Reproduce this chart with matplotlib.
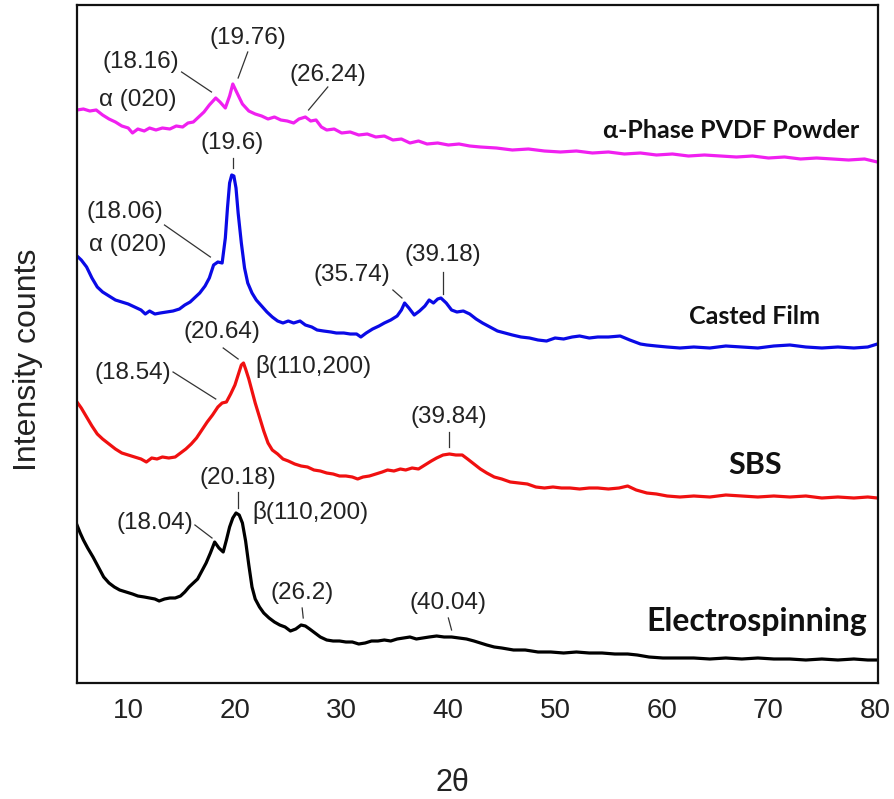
import matplotlib
matplotlib.use("Agg")
import matplotlib.pyplot as plt

# ---------------- data ----------------
# (2-theta, intensity) pairs, intensity in arbitrary offset-stacked units
powder_pts = [
    (5.2, 573), (5.8, 574), (6.4, 572), (7.0, 573), (7.6, 568), (8.2, 564), (8.8, 561), (9.4, 557),
    (10.0, 555), (10.4, 550), (10.9, 554), (11.5, 552), (12.0, 555), (12.6, 553), (13.2, 555),
    (13.9, 554), (14.5, 557), (15.1, 556), (15.6, 560), (16.1, 561), (16.6, 566), (17.1, 571),
    (17.6, 578), (18.2, 585), (18.6, 581), (19.1, 575), (19.5, 587), (19.8, 599), (20.2, 590),
    (20.7, 579), (21.3, 572), (21.9, 569), (22.5, 567), (23.1, 564), (23.7, 566), (24.3, 563),
    (24.9, 562), (25.5, 560), (26.0, 564), (26.6, 566), (27.1, 562), (27.6, 563), (28.1, 556),
    (28.6, 553), (29.3, 554), (30.0, 550), (30.8, 551), (31.6, 548), (32.4, 549), (33.2, 546),
    (34.0, 547), (34.8, 543), (35.6, 544), (36.4, 540), (37.2, 542), (38.0, 539), (39.0, 540),
    (40.0, 538), (41.0, 539), (42.0, 537), (43.0, 536), (44.5, 535), (46.0, 533), (47.5, 534),
    (49.0, 532), (50.5, 531), (52.0, 532), (53.5, 530), (55.0, 531), (56.5, 529), (58.0, 530),
    (59.5, 528), (61.0, 529), (62.5, 527), (64.0, 528), (65.5, 527), (67.0, 526), (68.5, 527),
    (70.0, 525), (71.5, 526), (73.0, 524), (74.5, 525), (76.0, 524), (77.5, 523), (79.0, 524),
    (80.2, 521),
]

film_pts = [
    (5.2, 427), (5.6, 423), (6.1, 416), (6.6, 405), (7.1, 396), (7.6, 391), (8.2, 387), (8.8, 383),
    (9.4, 381), (10.0, 379), (10.6, 376), (11.2, 373), (11.6, 369), (12.0, 372), (12.5, 369),
    (13.0, 370), (13.6, 371), (14.2, 372), (14.8, 374), (15.3, 378), (15.8, 381), (16.3, 386),
    (16.7, 390), (17.2, 397), (17.6, 405), (18.0, 418), (18.4, 421), (18.8, 420), (19.1, 445),
    (19.3, 475), (19.5, 500), (19.7, 508), (19.9, 507), (20.1, 495), (20.3, 470), (20.6, 440),
    (20.9, 415), (21.2, 400), (21.6, 390), (22.0, 383), (22.5, 377), (23.0, 371), (23.5, 366),
    (24.0, 362), (24.5, 360), (25.0, 362), (25.5, 360), (26.1, 362), (26.6, 358), (27.2, 356),
    (27.7, 353), (28.3, 352), (29.0, 351), (29.5, 350), (30.2, 350), (30.8, 349), (31.4, 349),
    (31.8, 346), (32.3, 350), (32.9, 354), (33.5, 357), (34.0, 360), (34.6, 363), (35.2, 367),
    (35.6, 373), (35.9, 380), (36.3, 375), (36.8, 368), (37.3, 372), (37.8, 377), (38.2, 383),
    (38.6, 380), (39.0, 384), (39.3, 385), (39.8, 380), (40.3, 373), (40.8, 371), (41.4, 372),
    (42.0, 369), (42.6, 364), (43.2, 360), (43.9, 356), (44.6, 352), (45.3, 350), (46.0, 348),
    (46.8, 346), (47.6, 345), (48.4, 343), (49.2, 342), (50.0, 345), (50.8, 344), (51.6, 346),
    (52.3, 347), (53.2, 345), (54.0, 346), (55.0, 346), (56.1, 347), (57.0, 343), (58.0, 339),
    (58.6, 338), (59.5, 337), (60.5, 336), (61.7, 335), (63.0, 336), (64.5, 335), (66.0, 337),
    (67.5, 336), (69.0, 335), (70.5, 337), (72.0, 338), (73.5, 336), (75.0, 335), (76.5, 336),
    (78.0, 335), (79.3, 336), (80.2, 339),
]

sbs_pts = [
    (5.2, 281), (5.6, 275), (6.1, 266), (6.6, 257), (7.1, 249), (7.6, 244), (8.2, 239), (8.8, 234),
    (9.4, 230), (10.0, 228), (10.6, 226), (11.2, 224), (11.7, 221), (12.2, 225), (12.7, 224),
    (13.2, 226), (13.8, 225), (14.4, 226), (14.9, 230), (15.4, 234), (15.9, 239), (16.4, 245),
    (16.9, 253), (17.4, 261), (17.9, 268), (18.4, 276), (18.8, 280), (19.2, 281), (19.6, 289),
    (20.0, 298), (20.3, 308), (20.6, 318), (20.8, 320), (21.0, 314), (21.3, 304), (21.6, 292),
    (21.9, 280), (22.3, 266), (22.7, 252), (23.1, 240), (23.5, 233), (24.0, 229), (24.5, 224),
    (25.0, 222), (25.6, 219), (26.2, 217), (26.8, 216), (27.4, 213), (28.0, 212), (28.6, 210),
    (29.2, 209), (29.8, 207), (30.4, 207), (31.0, 206), (31.5, 204), (32.0, 206), (32.6, 207),
    (33.2, 209), (33.8, 211), (34.3, 213), (34.9, 212), (35.5, 214), (36.0, 213), (36.6, 215),
    (37.2, 214), (37.8, 218), (38.4, 222), (38.9, 225), (39.5, 228), (40.1, 229), (40.7, 228),
    (41.3, 228), (41.8, 224), (42.4, 219), (43.0, 214), (43.6, 210), (44.3, 206), (45.0, 204),
    (45.8, 201), (46.6, 200), (47.4, 199), (48.2, 196), (49.0, 195), (49.8, 196), (50.6, 195),
    (51.4, 195), (52.3, 194), (53.2, 195), (54.0, 195), (55.0, 194), (56.0, 195), (56.8, 197),
    (57.6, 193), (58.6, 190), (59.5, 189), (60.5, 187), (61.7, 186), (63.0, 187), (64.5, 186),
    (66.0, 188), (67.5, 187), (69.0, 186), (70.5, 187), (72.0, 186), (73.5, 187), (75.0, 185),
    (76.5, 186), (78.0, 185), (79.3, 186), (80.2, 185),
]

es_pts = [
    (5.2, 158), (5.5, 150), (5.8, 143), (6.2, 135), (6.7, 126), (7.2, 116), (7.7, 106), (8.2, 100),
    (8.7, 96), (9.2, 93), (9.8, 91), (10.4, 89), (10.9, 87), (11.5, 86), (12.0, 85), (12.5, 84),
    (12.9, 82), (13.4, 84), (13.9, 85), (14.4, 85), (14.9, 87), (15.3, 91), (15.7, 96), (16.1, 100),
    (16.5, 104), (16.9, 112), (17.3, 120), (17.7, 130), (18.1, 141), (18.5, 135), (18.9, 131),
    (19.2, 143), (19.5, 156), (19.8, 165), (20.1, 170), (20.4, 168), (20.7, 160), (21.0, 142),
    (21.3, 118), (21.6, 96), (21.9, 84), (22.3, 76), (22.7, 70), (23.2, 65), (23.7, 61),
    (24.2, 58), (24.7, 56), (25.2, 52), (25.7, 54), (26.2, 58), (26.6, 57), (27.0, 54), (27.5, 50),
    (28.0, 46), (28.6, 43), (29.2, 42), (29.8, 42), (30.4, 41), (31.0, 41), (31.6, 39), (32.2, 40),
    (32.8, 42), (33.4, 42), (34.0, 43), (34.6, 42), (35.2, 44), (35.8, 45), (36.4, 46), (37.0, 44),
    (37.6, 45), (38.2, 46), (38.9, 47), (39.6, 46), (40.3, 46), (41.0, 45), (41.7, 44), (42.4, 42),
    (43.0, 40), (43.6, 38), (44.3, 36), (45.0, 35), (46.1, 33), (47.2, 33), (48.4, 31), (49.6, 31),
    (50.8, 30), (52.0, 31), (53.2, 30), (54.4, 30), (55.6, 29), (56.8, 29), (57.7, 28), (58.8, 26),
    (60.1, 25), (61.5, 25), (63.0, 25), (64.5, 24), (66.0, 25), (67.5, 24), (69.0, 25), (70.5, 24),
    (72.0, 24), (73.5, 23), (75.0, 24), (76.5, 23), (78.0, 24), (79.3, 23), (80.2, 23),
]

series_names = ["\u03b1-Phase PVDF Powder", "Casted Film", "SBS", "Electrospinning"]
series_colors = ["#F020F0", "#0A0AE6", "#F01010", "#000000"]

x_ticks = [10, 20, 30, 40, 50, 60, 70, 80]

# peak annotations: (text, peak x, peak y, line start x, line start y, text x, text y)
peak_notes = [
    ("(18.16)", 17.8, 591, 15.0, 611, 11.2, 621),
    ("(19.76)", 20.3, 605, 21.2, 631, 21.2, 645),
    ("(26.24)", 26.9, 573, 28.7, 596, 28.7, 608),
    ("(19.6)", 19.8, 515, 19.8, 525, 19.7, 540),
    ("(18.06)", 17.7, 426, 13.4, 458, 9.7, 471),
    ("(35.74)", 35.65, 385, 34.8, 393, 31.0, 408),
    ("(39.18)", 39.5, 389, 39.5, 411, 39.5, 428),
    ("(20.64)", 20.3, 324, 18.9, 335, 18.8, 351),
    ("(18.54)", 18.2, 284, 14.2, 311, 10.45, 310),
    ("(39.84)", 40.05, 236, 40.05, 251, 40.0, 266),
    ("(20.18)", 20.3, 175, 20.3, 191, 20.3, 205),
    ("(18.04)", 17.85, 145, 16.25, 158, 12.5, 160),
    ("(26.2)", 26.4, 65, 26.3, 75, 26.3, 90),
    ("(40.04)", 40.3, 53, 40.0, 65, 40.0, 80),
]
# free text labels: (text, x, y)
phase_notes = [
    ("\u03b1 (020)", 10.9, 583),
    ("\u03b1 (020)", 10.0, 438),
    ("\u03b2(110,200)", 27.4, 316),
    ("\u03b2(110,200)", 27.1, 171),
]
# sample name labels: (x, y, fontsize)
name_pos = [(66.5, 553, 18), (68.7, 366, 18), (68.7, 218, 22), (68.9, 61, 23)]

# ---------------- figure ----------------
fig = plt.figure(figsize=(8.94, 7.99), dpi=100)
ax = fig.add_axes([77 / 894, 1 - 683 / 799, (878 - 77) / 894, (683 - 5) / 799])

all_pts = [powder_pts, film_pts, sbs_pts, es_pts]
for pts, c in zip(all_pts, series_colors):
    x = [p[0] for p in pts]
    y = [p[1] for p in pts]
    ax.plot(x, y, color=c, lw=2.3, solid_joinstyle="round")

note_font = dict(family=["Liberation Sans", "DejaVu Sans"], fontsize=17.5, color="#222222")
for txt, px, py, lx, ly, tx, ty in peak_notes:
    ax.plot([lx, px], [ly, py], color="#333333", lw=0.9)
    ax.text(tx, ty, txt, ha="center", va="center", **note_font)
for txt, tx, ty in phase_notes:
    ax.text(tx, ty, txt, ha="center", va="center", **note_font)

for name, (nx, ny, fs) in zip(series_names, name_pos):
    ax.text(nx, ny, name, ha="center", va="center", fontsize=fs, fontweight="bold",
            family=["Lato", "DejaVu Sans"], color="#111111")

ax.set_xlim(5.2, 80.26)
ax.set_ylim(0, 678)
ax.set_xticks(x_ticks)
ax.set_xticklabels([str(t) for t in x_ticks], fontsize=20,
                   family=["Liberation Sans Narrow", "Liberation Sans", "DejaVu Sans"],
                   color="#222222")
ax.set_yticks([])
ax.tick_params(axis="x", length=0, pad=11)
for s in ax.spines.values():
    s.set_linewidth(1.6)
    s.set_color("#111111")

fig.text(28 / 894, 1 - 360 / 799, "Intensity counts", rotation=90, ha="center", va="center",
         fontsize=23, family=["Liberation Sans", "DejaVu Sans"], color="#222222")
fig.text(452 / 894, 1 - 783 / 799, "2\u03b8", ha="center", va="center",
         fontsize=22, family=["Liberation Sans", "DejaVu Sans"], color="#222222")

fig.savefig("out.png", dpi=100, facecolor="white")
